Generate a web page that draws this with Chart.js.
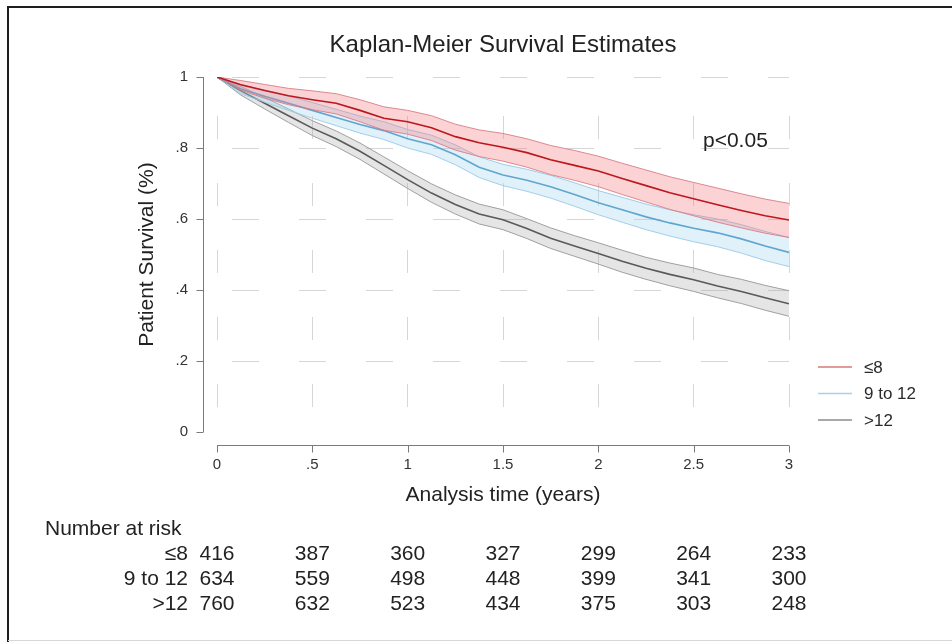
<!DOCTYPE html>
<html>
<head>
<meta charset="utf-8">
<script src="https://cdn.jsdelivr.net/npm/chart.js@4"></script>
<style>
  html, body { margin: 0; padding: 0; background: #ffffff; }
  #wrap { width: 952px; height: 642px; position: relative; }
</style>
</head>
<body>
<div id="wrap"><canvas id="km" width="952" height="642"></canvas></div>
<script>
// ---------------- data ----------------
const chartTitle = 'Kaplan-Meier Survival Estimates';
const xAxisTitle = 'Analysis time (years)';
const yAxisTitle = 'Patient Survival (%)';
const pValueText = 'p<0.05';
const seriesNames = ['\u22648', '9 to 12', '>12'];

const xTickValues = [0, 0.5, 1, 1.5, 2, 2.5, 3];
const xTickLabels = ['0', '.5', '1', '1.5', '2', '2.5', '3'];
const yTickValues = [0, 0.2, 0.4, 0.6, 0.8, 1];
const yTickLabels = ['0', '.2', '.4', '.6', '.8', '1'];

const timesYears = [0, 0.125, 0.25, 0.375, 0.5, 0.625, 0.75, 0.875, 1, 1.125, 1.25, 1.375, 1.5,
                    1.625, 1.75, 1.875, 2, 2.125, 2.25, 2.375, 2.5, 2.625, 2.75, 2.875, 3];

const survLe8   = [1, 0.978, 0.962, 0.947, 0.936, 0.926, 0.906, 0.884, 0.874, 0.857, 0.832, 0.815, 0.802,
                   0.787, 0.767, 0.751, 0.735, 0.714, 0.694, 0.674, 0.657, 0.640, 0.624, 0.609, 0.597];
const hiLe8     = [1, 0.990, 0.979, 0.968, 0.961, 0.953, 0.936, 0.916, 0.906, 0.891, 0.867, 0.851, 0.841,
                   0.826, 0.807, 0.793, 0.777, 0.757, 0.738, 0.719, 0.703, 0.687, 0.671, 0.656, 0.644];
const loLe8     = [1, 0.963, 0.940, 0.922, 0.908, 0.896, 0.874, 0.850, 0.839, 0.821, 0.794, 0.776, 0.763,
                   0.746, 0.725, 0.709, 0.691, 0.669, 0.648, 0.627, 0.609, 0.591, 0.575, 0.560, 0.548];

const surv9to12 = [1, 0.966, 0.946, 0.926, 0.906, 0.886, 0.866, 0.849, 0.826, 0.809, 0.781, 0.746, 0.724,
                   0.709, 0.691, 0.669, 0.646, 0.626, 0.606, 0.589, 0.574, 0.561, 0.544, 0.524, 0.506];
const hi9to12   = [1, 0.979, 0.963, 0.946, 0.928, 0.909, 0.890, 0.874, 0.852, 0.836, 0.809, 0.775, 0.754,
                   0.740, 0.723, 0.702, 0.680, 0.661, 0.642, 0.626, 0.612, 0.600, 0.584, 0.565, 0.548];
const lo9to12   = [1, 0.953, 0.929, 0.906, 0.884, 0.863, 0.842, 0.824, 0.800, 0.782, 0.753, 0.717, 0.694,
                   0.678, 0.659, 0.636, 0.612, 0.591, 0.570, 0.552, 0.536, 0.522, 0.504, 0.483, 0.466];

const survGt12  = [1, 0.961, 0.926, 0.891, 0.856, 0.826, 0.791, 0.751, 0.711, 0.673, 0.641, 0.614, 0.598,
                   0.573, 0.546, 0.524, 0.503, 0.481, 0.461, 0.444, 0.429, 0.411, 0.396, 0.378, 0.361];
const hiGt12    = [1, 0.973, 0.942, 0.910, 0.877, 0.848, 0.814, 0.775, 0.736, 0.699, 0.668, 0.642, 0.626,
                   0.601, 0.575, 0.553, 0.533, 0.512, 0.492, 0.476, 0.462, 0.444, 0.430, 0.413, 0.398];
const loGt12    = [1, 0.949, 0.910, 0.872, 0.835, 0.804, 0.768, 0.727, 0.686, 0.647, 0.614, 0.586, 0.570,
                   0.545, 0.517, 0.495, 0.473, 0.450, 0.430, 0.412, 0.396, 0.378, 0.362, 0.343, 0.326];

const riskTimes  = [0, 0.5, 1, 1.5, 2, 2.5, 3];
const riskLe8    = [416, 387, 360, 327, 299, 264, 233];
const risk9to12  = [634, 559, 498, 448, 399, 341, 300];
const riskGt12   = [760, 632, 523, 434, 375, 303, 248];

// ---------------- styles ----------------
const FONT = '"Liberation Sans", Arial, Helvetica, sans-serif';
const lineColors = ['#bd161d', '#5fa6cf', '#595959'];
const edgeColors = ['rgba(214,120,128,0.85)', 'rgba(150,200,228,0.9)', 'rgba(150,150,150,0.9)'];
const bandColors = ['rgba(243,120,128,0.33)', 'rgba(170,215,242,0.35)', 'rgba(160,160,160,0.28)'];
const legendColors = ['#d9787c', '#a6d2ea', '#8c8c8c'];
const gridColor = '#d6d6d6';

function pts(ys) { return timesYears.map((t, i) => ({ x: t, y: ys[i] })); }

const groups = [
  { est: survLe8, hi: hiLe8, lo: loLe8 },
  { est: surv9to12, hi: hi9to12, lo: lo9to12 },
  { est: survGt12, hi: hiGt12, lo: loGt12 }
];

const datasets = [];
groups.forEach((g, k) => {
  datasets.push({ label: seriesNames[k], data: pts(g.est), borderColor: lineColors[k], borderWidth: 1.6,
                  pointRadius: 0, fill: false, tension: 0 });
  datasets.push({ label: seriesNames[k] + ' upper', data: pts(g.hi), borderColor: edgeColors[k], borderWidth: 1,
                  pointRadius: 0, fill: '+1', backgroundColor: bandColors[k], tension: 0 });
  datasets.push({ label: seriesNames[k] + ' lower', data: pts(g.lo), borderColor: edgeColors[k], borderWidth: 1,
                  pointRadius: 0, fill: false, tension: 0 });
});

const riskRows = [riskLe8, risk9to12, riskGt12];

const decor = {
  id: 'decor',
  beforeDraw(chart) {
    const c = chart.ctx;
    c.save();
    c.fillStyle = '#ffffff';
    c.fillRect(0, 0, chart.width, chart.height);
    c.restore();
  },
  afterDraw(chart) {
    const c = chart.ctx;
    const xs = chart.scales.x, ys = chart.scales.y;
    const ca = chart.chartArea;
    c.save();
    // frame
    c.strokeStyle = '#1e1e1e';
    c.lineWidth = 2;
    c.beginPath();
    c.moveTo(8, 642); c.lineTo(8, 7); c.lineTo(952, 7);
    c.stroke();
    c.strokeStyle = '#d8d8d8';
    c.lineWidth = 1;
    c.beginPath(); c.moveTo(8, 640.5); c.lineTo(952, 640.5); c.stroke();

    // title
    c.fillStyle = '#222';
    c.font = '24px ' + FONT;
    c.textAlign = 'center';
    c.textBaseline = 'alphabetic';
    c.fillText(chartTitle, (ca.left + ca.right) / 2, 52);

    // axes lines (offset, Stata style)
    c.strokeStyle = '#7a7a7a';
    c.lineWidth = 1;
    const yAxX = Math.round(ca.left - 14) + 0.5;
    c.beginPath();
    c.moveTo(yAxX, ys.getPixelForValue(1));
    c.lineTo(yAxX, ys.getPixelForValue(0));
    yTickValues.forEach(v => {
      const py = Math.round(ys.getPixelForValue(v)) + 0.5;
      c.moveTo(yAxX - 7, py); c.lineTo(yAxX, py);
    });
    c.stroke();
    const xAxY = Math.round(ca.bottom + 13) + 0.5;
    c.beginPath();
    c.moveTo(xs.getPixelForValue(0), xAxY);
    c.lineTo(xs.getPixelForValue(3), xAxY);
    xTickValues.forEach(v => {
      const px = Math.round(xs.getPixelForValue(v)) + 0.5;
      c.moveTo(px, xAxY); c.lineTo(px, xAxY + 7);
    });
    c.stroke();

    // axis titles
    c.fillStyle = '#222';
    c.font = '21px ' + FONT;
    c.textAlign = 'center';
    c.textBaseline = 'middle';
    c.fillText(xAxisTitle, (ca.left + ca.right) / 2, 495);
    c.save();
    c.translate(147, (ca.top + ca.bottom) / 2);
    c.rotate(-Math.PI / 2);
    c.fillText(yAxisTitle, 0, 0);
    c.restore();

    // p-value
    c.textAlign = 'left';
    c.textBaseline = 'alphabetic';
    c.font = '21px ' + FONT;
    c.fillText(pValueText, 703, 147);

    // legend
    c.font = '17px ' + FONT;
    c.textBaseline = 'middle';
    seriesNames.forEach((name, k) => {
      const ly = 367 + k * 26.5;
      c.strokeStyle = legendColors[k];
      c.lineWidth = 1.4;
      c.beginPath(); c.moveTo(818, ly); c.lineTo(852, ly); c.stroke();
      c.fillStyle = '#2a2a2a';
      c.fillText(name, 864, ly + 1);
    });

    // number at risk table
    c.fillStyle = '#222';
    c.font = '21px ' + FONT;
    c.textBaseline = 'alphabetic';
    c.textAlign = 'left';
    c.fillText('Number at risk', 45, 535);
    riskRows.forEach((row, r) => {
      const by = 560 + r * 25;
      c.textAlign = 'right';
      c.fillText(seriesNames[r], 188, by);
      c.textAlign = 'center';
      row.forEach((n, i) => {
        c.fillText(String(n), xs.getPixelForValue(riskTimes[i]), by);
      });
    });
    c.restore();
  }
};

new Chart(document.getElementById('km'), {
  type: 'line',
  data: { datasets },
  options: {
    responsive: false,
    animation: false,
    events: [],
    layout: { padding: { left: 0, right: 163, top: 77, bottom: 0 } },
    plugins: { legend: { display: false }, tooltip: { enabled: false }, title: { display: false } },
    scales: {
      x: {
        type: 'linear', min: 0, max: 3,
        afterFit(scale) { scale.height = 210; },
        afterBuildTicks(scale) { scale.ticks = xTickValues.map(v => ({ value: v })); },
        border: { display: false, dash: [23, 44], dashOffset: 28 },
        grid: { drawTicks: false, color: gridColor, lineWidth: 1 },
        ticks: {
          padding: 24, color: '#333', font: { family: FONT, size: 15 },
          maxRotation: 0, autoSkip: false,
          callback(v) { const i = xTickValues.indexOf(v); return i >= 0 ? xTickLabels[i] : ''; }
        }
      },
      y: {
        type: 'linear', min: 0, max: 1,
        afterFit(scale) { scale.width = 217; },
        afterBuildTicks(scale) { scale.ticks = yTickValues.map(v => ({ value: v })); },
        border: { display: false, dash: [27, 40], dashOffset: 52 },
        grid: {
          drawTicks: false, lineWidth: 1,
          color(ctx) { return ctx.tick && ctx.tick.value === 0 ? 'rgba(0,0,0,0)' : gridColor; }
        },
        ticks: {
          padding: 29, color: '#333', font: { family: FONT, size: 15 }, autoSkip: false,
          callback(v) { const i = yTickValues.indexOf(v); return i >= 0 ? yTickLabels[i] : ''; }
        }
      }
    }
  },
  plugins: [decor]
});
</script>
</body>
</html>
